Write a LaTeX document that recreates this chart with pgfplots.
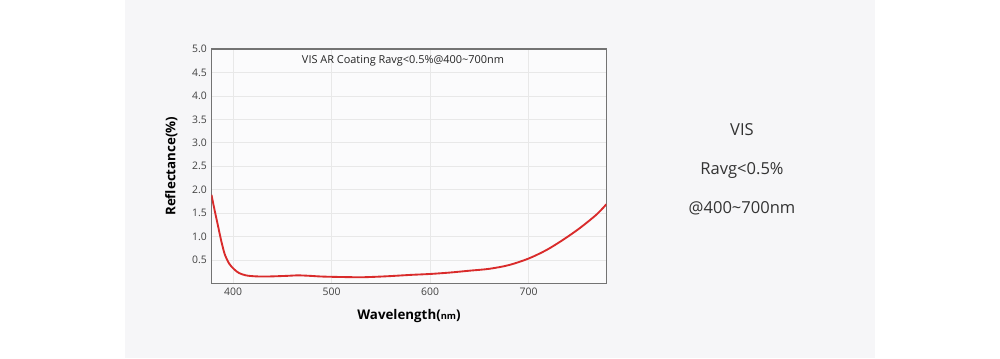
\documentclass[border=0pt]{standalone}
\usepackage{fontspec}
\setmainfont{Open Sans}
\newfontfamily\labfont{Liberation Sans}
\usepackage{pgfplots}
\pgfplotsset{compat=1.18}
\definecolor{panel}{HTML}{F6F6F8}
\definecolor{curve}{HTML}{D92B2B}
\definecolor{ticktxt}{HTML}{404040}
\begin{document}
\begin{tikzpicture}
\useasboundingbox (0pt,0pt) rectangle (750pt,268.5pt);
\fill[white] (0pt,0pt) rectangle (750pt,268.5pt);
\fill[panel] (93.75pt,0pt) rectangle (656.25pt,268.5pt);
\begin{axis}[
  at={(158.6pt,56.0pt)}, anchor=south west,
  scale only axis, width=296.25pt, height=175.7pt,
  xmin=378, xmax=779, ymin=0, ymax=5,
  xtick={400,500,600,700},
  ytick={0.5,1,1.5,2,2.5,3,3.5,4,4.5,5},
  yticklabel style={/pgf/number format/fixed,/pgf/number format/precision=1,/pgf/number format/fixed zerofill},
  /pgf/number format/assume math mode=true,
  ticklabel style={font=\fontsize{7.8}{8}\selectfont, text=ticktxt},
  major tick length=0pt,
  grid=major, major grid style={color=black!9, line width=0.6pt},
  axis line style={color=black!55, line width=0.9pt},
  axis background/.style={fill=white!60!panel},
  xlabel={\textbf{Wavelength(}{\fontsize{7}{8}\selectfont\bfseries nm}\textbf{)}},
  xlabel style={font=\fontsize{9.5}{10}\selectfont, text=black!85},
  every axis x label/.style={at={(rel axis cs:0.5,0)}, anchor=north, yshift=-16pt},
  ylabel={\textbf{Reflectance(\%)}},
  ylabel style={font=\labfont\fontsize{9.3}{10}\selectfont, text=black!85},
  every axis y label/.style={at={(rel axis cs:0,0.5)}, rotate=90, anchor=south, yshift=22pt},
  clip=true,
]
\addplot[curve, line width=1.4pt, smooth, tension=0.5] coordinates {
(378,1.89) (381,1.58) (384.5,1.24) (388,0.90) (391.5,0.62) (396,0.42)
(401,0.30) (406,0.22) (413,0.17) (422,0.15) (432,0.145) (442,0.15) (455,0.16)
(466,0.17) (478,0.16) (490,0.145) (510,0.135) (530,0.13) (545,0.14)
(560,0.155) (580,0.18) (600,0.2) (620,0.23) (640,0.27) (660,0.31)
(680,0.39) (700,0.53) (718,0.71) (735,0.93) (752,1.18) (769,1.47) (779,1.69)
};
\node[font=\fontsize{8.2}{9}\selectfont, text=black!85, inner sep=0pt] at (rel axis cs:0.485,0.949) {VIS AR Coating Ravg<0.5\%@400\textasciitilde700nm};
\end{axis}
\node[font=\fontsize{12.4}{14}\selectfont, text=black!80] at (556.5pt,171pt) {VIS};
\node[font=\fontsize{12.4}{14}\selectfont, text=black!80] at (556.5pt,141pt) {Ravg<0.5\%};
\node[font=\fontsize{12.4}{14}\selectfont, text=black!80] at (556.5pt,112.5pt) {@400\textasciitilde700nm};
\end{tikzpicture}
\end{document}
